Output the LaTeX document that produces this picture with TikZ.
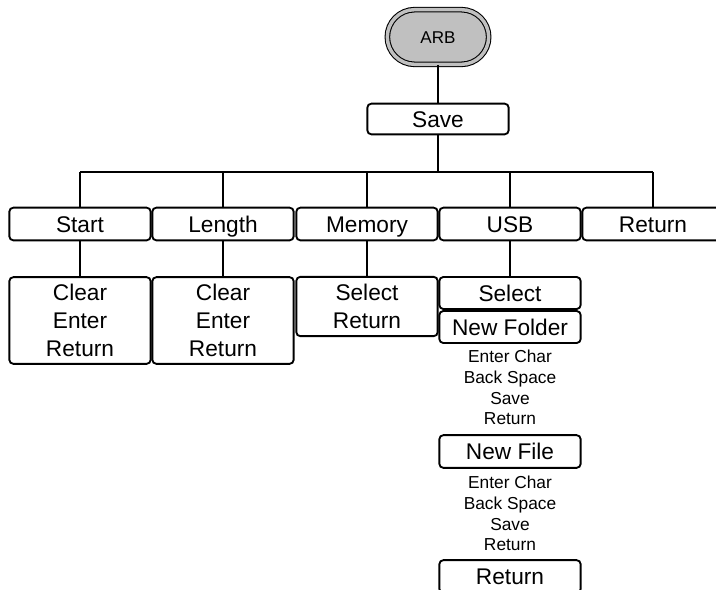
\documentclass[tikz,border=0pt]{standalone}
\usepackage{fontspec}
\setmainfont{Liberation Sans}
\usetikzlibrary{shapes.misc}
\definecolor{arbgray}{RGB}{192,192,192}
\tikzset{
  box/.style={draw, rounded corners=3pt, line width=1.4pt, minimum width=106pt, inner sep=0pt,
    font=\fontsize{17}{21}\selectfont, align=center},
  onebox/.style={box, text height=12.2pt, text depth=0pt},
  smalltext/.style={inner sep=0pt, align=center, font=\fontsize{13}{15.5}\selectfont},
  conn/.style={line width=1.4pt},
}
\begin{document}
\begin{tikzpicture}[x=0.75pt,y=-0.75pt]
\useasboundingbox (0,0) rectangle (716,589);
\clip (0,0) rectangle (716,589);
% root
\node[rounded rectangle, draw, line width=0.8pt, double=arbgray, double distance=2.6pt, fill=arbgray,
  minimum width=76pt, minimum height=41pt, inner sep=0pt, text height=9.2pt, text depth=0pt,
  font=\fontsize{12.8}{14}\selectfont] (arb) at (438,37) {ARB};
\node[onebox, minimum height=23pt] (save) at (438,119) {Save};
\coordinate (bus) at (438,172);
\coordinate (busl) at (80,172);
\coordinate (busr) at (653,172);
% top row
\node[onebox, minimum height=24.5pt] (start) at (80,224) {Start};
\node[onebox, minimum height=24.5pt] (length) at (223,224) {Length};
\node[onebox, minimum height=24.5pt] (memory) at (367,224) {Memory};
\node[onebox, minimum height=24.5pt] (usb) at (510,224) {USB};
\node[onebox, minimum height=24.5pt] (ret) at (653,224) {Return};
% second row
\node[box, minimum height=65pt] (startc) at (80,320.5) {Clear\\Enter\\Return};
\node[box, minimum height=65pt] (lengthc) at (223,320.5) {Clear\\Enter\\Return};
\node[box, minimum height=44.5pt] (memc) at (367,306.5) {Select\\Return};
\node[onebox, minimum height=24pt] (sel) at (510,293) {Select};
\node[onebox, minimum height=24pt] (newfolder) at (510,327) {New Folder};
\node[smalltext] (nft) at (510,387.5) {Enter Char\\Back Space\\Save\\Return};
\node[onebox, minimum height=24.5pt] (newfile) at (510,451.5) {New File};
\node[smalltext] (nfilet) at (510,513.5) {Enter Char\\Back Space\\Save\\Return};
\node[onebox, minimum height=24.5pt] (retu) at (510,576.5) {Return};
% connectors
\draw[conn] (arb.south) -- (save.north);
\draw[conn] (save.south) -- (bus);
\draw[conn] (busl) -- (busr);
\draw[conn] (busl) -- (start.north);
\draw[conn] (length.north) |- (bus);
\draw[conn] (memory.north) |- (bus);
\draw[conn] (usb.north) |- (bus);
\draw[conn] (busr) -- (ret.north);
\draw[conn] (start.south) -- (startc.north);
\draw[conn] (length.south) -- (lengthc.north);
\draw[conn] (memory.south) -- (memc.north);
\draw[conn] (usb.south) -- (sel.north);
\end{tikzpicture}
\end{document}
